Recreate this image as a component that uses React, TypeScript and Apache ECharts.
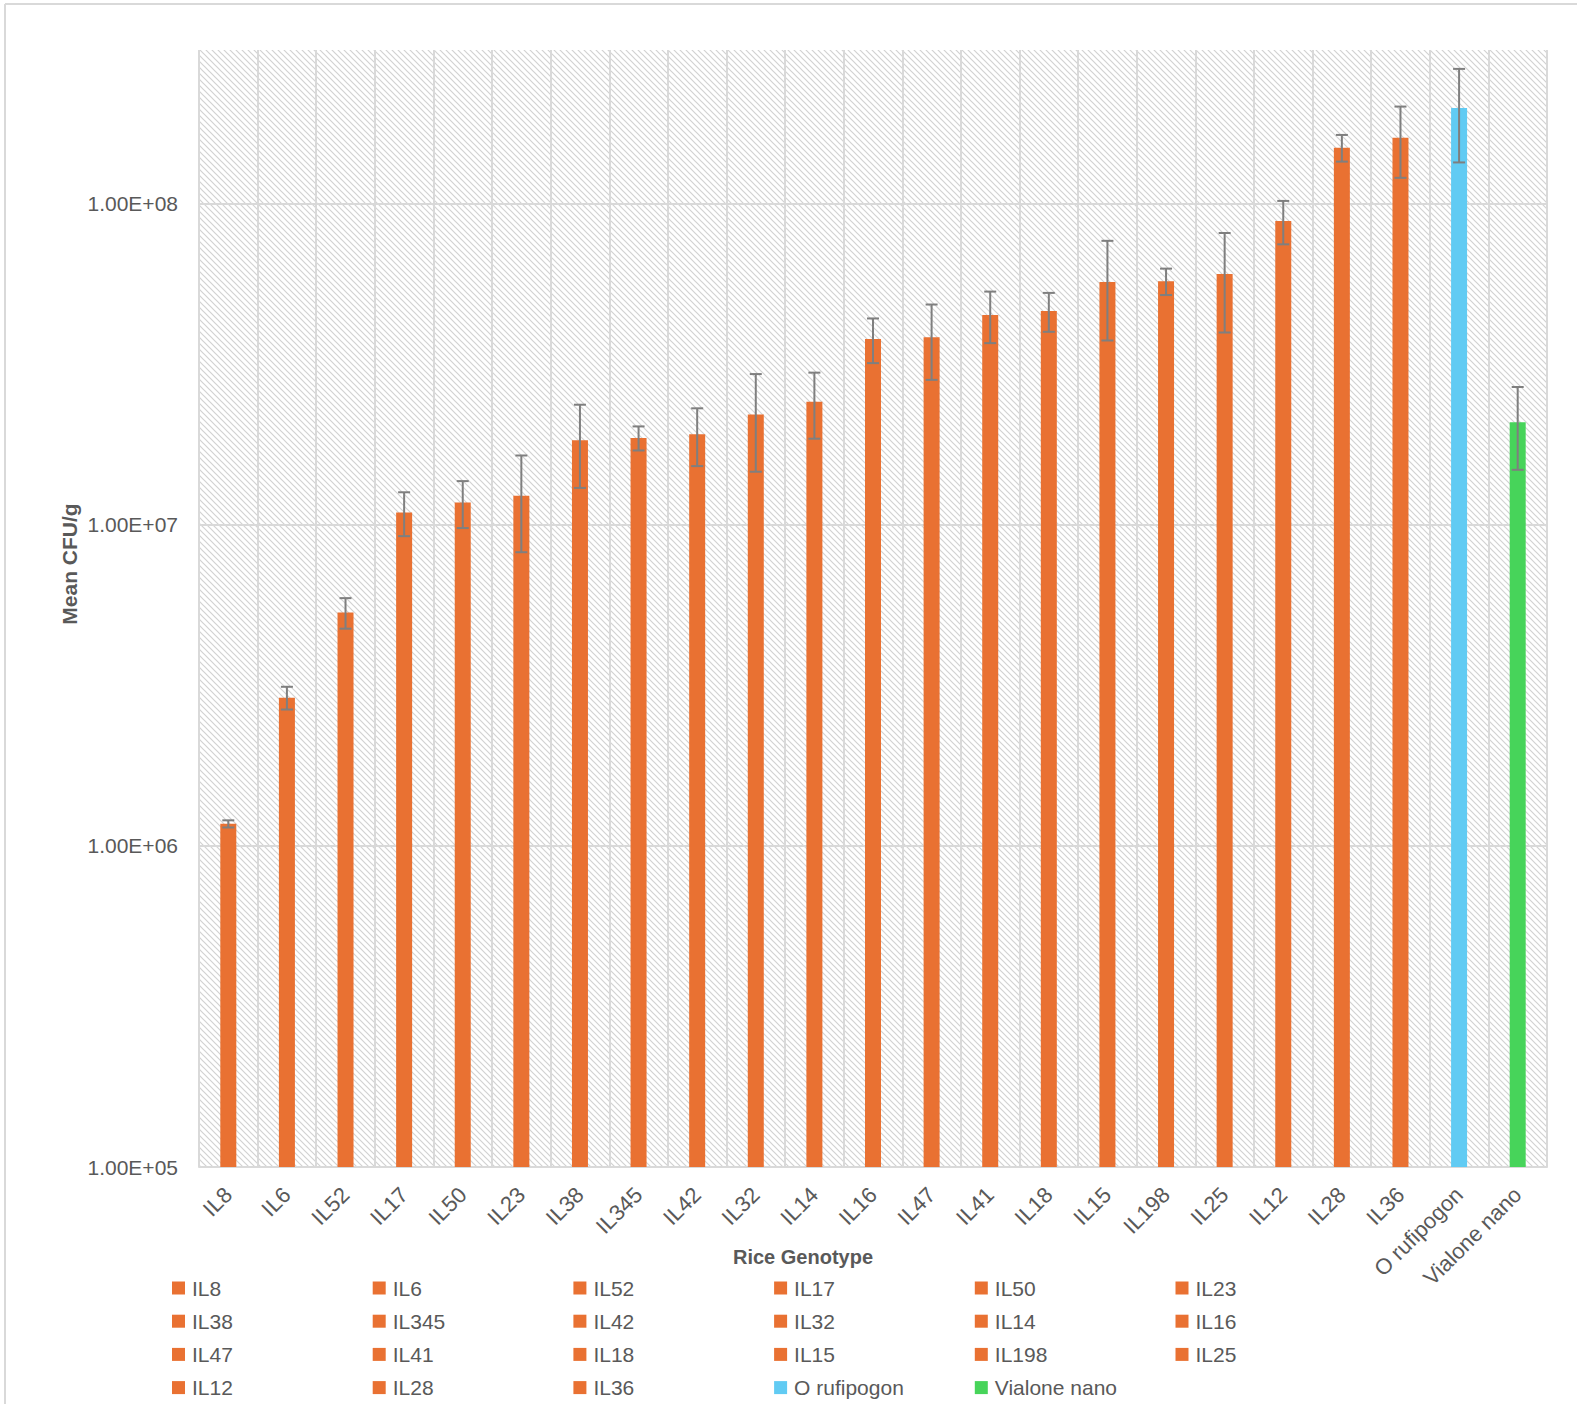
import React, { useEffect, useRef } from "react";
import * as echarts from "echarts";

// Rice genotypes, ordered by mean colonisation
const genotypes = [
  "IL8", "IL6", "IL52", "IL17", "IL50", "IL23", "IL38", "IL345", "IL42", "IL32",
  "IL14", "IL16", "IL47", "IL41", "IL18", "IL15", "IL198", "IL25", "IL12", "IL28",
  "IL36", "O rufipogon", "Vialone nano",
];

// Mean CFU/g per genotype
const meanCfu = [
  1.17e6, 2.89e6, 5.32e6, 1.09e7, 1.17e7, 1.23e7, 1.83e7, 1.86e7, 1.91e7, 2.2e7,
  2.41e7, 3.78e7, 3.83e7, 4.49e7, 4.62e7, 5.69e7, 5.72e7, 6.02e7, 8.81e7, 1.49e8,
  1.6e8, 1.98e8, 2.08e7,
];

// Error (± CFU/g) per genotype
const errCfu = [
  3.0e4, 2.35e5, 5.8e5, 1.7e6, 1.95e6, 4.1e6, 5.3e6, 1.6e6, 3.9e6, 7.4e6,
  5.6e6, 6.0e6, 1.01e7, 8.2e6, 6.4e6, 1.95e7, 5.4e6, 2.06e7, 1.36e7, 1.42e7,
  4.0e7, 6.4e7, 6.0e6,
];

// Log axis range
const yMin = 1e5;
const yMax = 3e8;

const ORANGE = "#E97132";
const BLUE = "#61CBF3";
const GREEN = "#47D45A";
const TEXT = "#595959";
const GRID = "#d9d9d9";
const FONT = "Liberation Sans";

const colorFor = (name: string) =>
  name === "O rufipogon" ? BLUE : name === "Vialone nano" ? GREEN : ORANGE;

function makeHatch(): string {
  const s = 6;
  const c = document.createElement("canvas");
  c.width = s;
  c.height = s;
  const ctx = c.getContext("2d")!;
  ctx.fillStyle = "#ffffff";
  ctx.fillRect(0, 0, s, s);
  ctx.strokeStyle = "#d2d2d2";
  ctx.lineWidth = 1.2;
  ctx.beginPath();
  ctx.moveTo(-1, -1);
  ctx.lineTo(s + 1, s + 1);
  ctx.moveTo(-1, s - 1);
  ctx.lineTo(1, s + 1);
  ctx.moveTo(s - 1, -1);
  ctx.lineTo(s + 1, 1);
  ctx.stroke();
  return c.toDataURL();
}

function expLabel(v: number): string {
  const e = Math.log10(v);
  const r = Math.round(e);
  if (Math.abs(e - r) > 1e-6) return "";
  return `1.00E${r < 0 ? "-" : "+"}${String(Math.abs(r)).padStart(2, "0")}`;
}

export default function App() {
  const ref = useRef<HTMLDivElement>(null);

  useEffect(() => {
    if (!ref.current) return;
    const chart = echarts.init(ref.current, undefined, { renderer: "svg" });

    const hatch = makeHatch();

    const barSeries = genotypes.map((name, i) => ({
      name,
      type: "bar",
      data: genotypes.map((_, j) => (j === i ? meanCfu[i] : "-")),
      barWidth: 16,
      barGap: "-100%",
      itemStyle: { color: colorFor(name) },
      z: 2,
    }));

    const errorData = genotypes.map((_, i) => [i, meanCfu[i] - errCfu[i], meanCfu[i] + errCfu[i]]);

    const legends = genotypes.map((name, i) => {
      const col = i % 6;
      const row = Math.floor(i / 6);
      return {
        data: [name],
        left: 172 + col * 200.7,
        top: 1288 + row * 33.2 - 13,
        icon: "rect",
        itemWidth: 13,
        itemHeight: 13,
        itemGap: 0,
        padding: 0,
        selectedMode: false,
        textStyle: {
          fontFamily: FONT,
          fontSize: 21,
          lineHeight: 26,
          color: TEXT,
          padding: [0, 0, 0, 2],
        },
      };
    });

    chart.setOption({
      animation: false,
      backgroundColor: "#ffffff",
      grid: {
        left: 199,
        right: 30,
        top: 50,
        bottom: 237,
        show: true,
        borderWidth: 0,
        backgroundColor: { image: hatch, repeat: "repeat", imageWidth: 6, imageHeight: 6 },
      },
      legend: legends,
      xAxis: {
        type: "category",
        data: genotypes,
        axisTick: { show: false },
        axisLine: { lineStyle: { color: GRID, width: 2 } },
        splitLine: { show: true, lineStyle: { color: GRID, width: 2 } },
        axisLabel: {
          rotate: 45,
          margin: 24,
          interval: 0,
          fontFamily: FONT,
          fontSize: 22,
          color: TEXT,
        },
      },
      yAxis: {
        type: "log",
        logBase: 10,
        min: yMin,
        max: yMax,
        axisLine: { show: false },
        axisTick: { show: false },
        splitLine: { show: true, showMaxLine: false, lineStyle: { color: GRID, width: 2 } },
        axisLabel: {
          showMaxLabel: false,
          margin: 21,
          fontFamily: FONT,
          fontSize: 21,
          color: TEXT,
          formatter: (v: number) => expLabel(v),
        },
      },
      series: [
        ...barSeries,
        {
          name: "errors",
          type: "custom",
          data: errorData,
          encode: { x: 0, y: [1, 2] },
          z: 5,
          renderItem: (_params: any, api: any) => {
            const i = api.value(0);
            const lo = api.coord([i, api.value(1)]);
            const hi = api.coord([i, api.value(2)]);
            const x = hi[0];
            const cap = 6;
            const style = { stroke: "#7f7f7f", lineWidth: 2 };
            return {
              type: "group",
              children: [
                { type: "line", shape: { x1: x, y1: hi[1], x2: x, y2: lo[1] }, style },
                { type: "line", shape: { x1: x - cap, y1: hi[1], x2: x + cap, y2: hi[1] }, style },
                { type: "line", shape: { x1: x - cap, y1: lo[1], x2: x + cap, y2: lo[1] }, style },
              ],
            };
          },
        },
      ],
      graphic: [
        // chart frame
        { type: "line", shape: { x1: 5, y1: 4, x2: 1577, y2: 4 }, style: { stroke: GRID, lineWidth: 2 } },
        { type: "line", shape: { x1: 5, y1: 4, x2: 5, y2: 1404 }, style: { stroke: GRID, lineWidth: 2 } },
        {
          type: "text",
          x: 803,
          y: 1257,
          style: {
            text: "Rice Genotype",
            fontFamily: FONT,
            fontWeight: "bold",
            fontSize: 20,
            fill: TEXT,
            align: "center",
            verticalAlign: "middle",
          },
        },
        {
          type: "text",
          x: 69,
          y: 564,
          rotation: Math.PI / 2,
          style: {
            text: "Mean CFU/g",
            fontFamily: FONT,
            fontWeight: "bold",
            fontSize: 21,
            fill: TEXT,
            align: "center",
            verticalAlign: "middle",
          },
        },
      ],
    });

    return () => chart.dispose();
  }, []);

  return (
    <div
      ref={ref}
      style={{ position: "fixed", left: 0, top: 0, width: 1577, height: 1404 }}
    />
  );
}
